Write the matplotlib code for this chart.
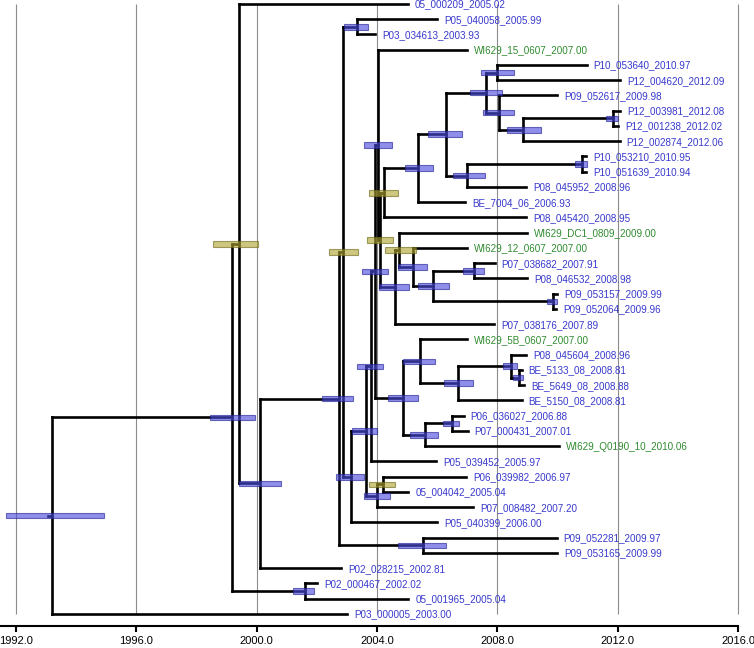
import matplotlib
matplotlib.use('Agg')
import matplotlib.pyplot as plt

# tips, top to bottom
tipNames = [
    '05_000209_2005.02', 'P05_040058_2005.99', 'P03_034613_2003.93', 'WI629_15_0607_2007.00',
    'P10_053640_2010.97', 'P12_004620_2012.09', 'P09_052617_2009.98', 'P12_003981_2012.08',
    'P12_001238_2012.02', 'P12_002874_2012.06', 'P10_053210_2010.95', 'P10_051639_2010.94',
    'P08_045952_2008.96', 'BE_7004_06_2006.93', 'P08_045420_2008.95', 'WI629_DC1_0809_2009.00',
    'WI629_12_0607_2007.00', 'P07_038682_2007.91', 'P08_046532_2008.98', 'P09_053157_2009.99',
    'P09_052064_2009.96', 'P07_038176_2007.89', 'WI629_5B_0607_2007.00', 'P08_045604_2008.96',
    'BE_5133_08_2008.81', 'BE_5649_08_2008.88', 'BE_5150_08_2008.81', 'P06_036027_2006.88',
    'P07_000431_2007.01', 'WI629_Q0190_10_2010.06', 'P05_039452_2005.97', 'P06_039982_2006.97',
    '05_004042_2005.04', 'P07_008482_2007.20', 'P05_040399_2006.00', 'P09_052281_2009.97',
    'P09_053165_2009.99', 'P02_028215_2002.81', 'P02_000467_2002.02', '05_001965_2005.04',
    'P03_000005_2003.00',
]
tipDates = [
    2005.02, 2005.99, 2003.93, 2007.00, 2010.97, 2012.09, 2009.98, 2012.08,
    2012.02, 2012.06, 2010.95, 2010.94, 2008.96, 2006.93, 2008.95, 2009.00,
    2007.00, 2007.91, 2008.98, 2009.99, 2009.96, 2007.89, 2007.00, 2008.96,
    2008.81, 2008.88, 2008.81, 2006.88, 2007.01, 2010.06, 2005.97, 2006.97,
    2005.04, 2007.20, 2006.00, 2009.97, 2009.99, 2002.81, 2002.02, 2005.04,
    2003.00,
]

# internal nodes
nodeNames = ['root', 'A', 'B', 'C', 'D', 'F', 'E', 'n', 'o', 'p', 'P', 'k', 'l', 'j', 'i',
             'f', 'e', 'a', 'b', 'c', 'd', 'g', 'h', 'V', 'U', 'Q', 'R', 'S', 'T', 'M',
             'I', 'J', 'K', 'L', 'N', 'O', 'q', 'r', 'H', 'G']
nodeChildren = [
    ['A', 'P03_000005_2003.00'], ['B', 'G'], ['05_000209_2005.02', 'C'],
    ['D', 'P02_028215_2002.81'], ['F', 'H'], ['E', 'n'],
    ['P05_040058_2005.99', 'P03_034613_2003.93'], ['o', 'P05_040399_2006.00'], ['p', 'q'],
    ['P', 'P05_039452_2005.97'], ['k', 'M'], ['WI629_15_0607_2007.00', 'l'], ['j', 'V'],
    ['i', 'P08_045420_2008.95'], ['f', 'BE_7004_06_2006.93'], ['e', 'g'], ['a', 'b'],
    ['P10_053640_2010.97', 'P12_004620_2012.09'], ['P09_052617_2009.98', 'c'],
    ['d', 'P12_002874_2012.06'], ['P12_003981_2012.08', 'P12_001238_2012.02'],
    ['h', 'P08_045952_2008.96'], ['P10_053210_2010.95', 'P10_051639_2010.94'],
    ['U', 'P07_038176_2007.89'], ['WI629_DC1_0809_2009.00', 'Q'],
    ['WI629_12_0607_2007.00', 'R'], ['S', 'T'],
    ['P07_038682_2007.91', 'P08_046532_2008.98'], ['P09_053157_2009.99', 'P09_052064_2009.96'],
    ['I', 'N'], ['WI629_5B_0607_2007.00', 'J'], ['K', 'BE_5150_08_2008.81'],
    ['P08_045604_2008.96', 'L'], ['BE_5133_08_2008.81', 'BE_5649_08_2008.88'],
    ['O', 'WI629_Q0190_10_2010.06'], ['P06_036027_2006.88', 'P07_000431_2007.01'],
    ['r', 'P07_008482_2007.20'], ['P06_039982_2006.97', '05_004042_2005.04'],
    ['P09_052281_2009.97', 'P09_053165_2009.99'], ['P02_000467_2002.02', '05_001965_2005.04'],
]
nodeDates = [1993.20, 1999.18, 1999.42, 2000.11, 2002.74, 2002.87, 2003.34, 2003.14, 2003.64,
             2003.81, 2003.94, 2004.04, 2004.10, 2004.24, 2005.37, 2006.30, 2007.63, 2008.00,
             2008.06, 2008.86, 2011.85, 2007.00, 2010.82, 2004.60, 2004.74, 2005.20, 2005.87,
             2007.23, 2009.86, 2004.87, 2005.44, 2006.70, 2008.46, 2008.73, 2005.60, 2006.50,
             2004.00, 2004.20, 2005.54, 2001.61]
hpdLower = [1991.67, 1998.45, 1998.55, 1999.42, 2002.18, 2002.41, 2002.91, 2002.64, 2003.17,
            2003.34, 2003.51, 2003.57, 2003.67, 2003.74, 2004.94, 2005.70, 2007.10, 2007.46,
            2007.53, 2008.33, 2011.62, 2006.53, 2010.59, 2004.07, 2004.27, 2004.70, 2005.37,
            2006.87, 2009.66, 2004.37, 2004.87, 2006.23, 2008.20, 2008.53, 2005.10, 2006.20,
            2003.57, 2003.74, 2004.70, 2001.21]
hpdUpper = [1994.93, 1999.95, 2000.05, 2000.81, 2003.21, 2003.37, 2003.71, 2003.57, 2004.00,
            2004.20, 2004.37, 2004.50, 2004.54, 2004.70, 2005.87, 2006.83, 2008.16, 2008.56,
            2008.56, 2009.46, 2012.02, 2007.60, 2010.99, 2005.07, 2005.30, 2005.67, 2006.40,
            2007.56, 2009.99, 2005.37, 2005.93, 2007.20, 2008.66, 2008.86, 2006.03, 2006.73,
            2004.44, 2004.60, 2006.30, 2001.91]
lowSupport = ['B', 'F', 'l', 'j', 'U', 'r']

yearTicks = [1992, 1996, 2000, 2004, 2008, 2012, 2016]

blueText = '#3838cc'
greenText = '#2f8a2f'

dates = dict(zip(tipNames, tipDates))
dates.update(dict(zip(nodeNames, nodeDates)))
children = dict(zip(nodeNames, nodeChildren))
rows = {name: i for i, name in enumerate(tipNames)}


def rowOf(name):
    if name not in rows:
        kids = children[name]
        rows[name] = (rowOf(kids[0]) + rowOf(kids[-1])) / 2.0
    return rows[name]


fig = plt.figure(figsize=(7.54, 6.48), dpi=100)
ax = fig.add_axes([0, 22 / 648, 1, 626 / 648])
ax.set_xlim(1991.47, 2016.53)
ax.set_ylim(40.79, -0.262)

# grid
ax.vlines(yearTicks, 0, len(tipNames) - 1, color='#8c8c8c', lw=0.8, zorder=0)

# branches
lineW = 1.9
for name in nodeNames:
    x = dates[name]
    ys = [rowOf(c) for c in children[name]]
    ax.plot([x, x], [min(ys), max(ys)], color='black', lw=lineW, solid_capstyle='projecting', zorder=2)
    for c in children[name]:
        ax.plot([x, dates[c]], [rowOf(c), rowOf(c)], color='black', lw=lineW,
                solid_capstyle='projecting', zorder=2)
ax.plot([dates['root'] - 0.15, dates['root']], [rowOf('root')] * 2, color='black', lw=lineW, zorder=2)

# node HPD bars
for name, lo, hi in zip(nodeNames, hpdLower, hpdUpper):
    if name in lowSupport:
        face, edge = '#b0a630', '#6e6818'
    else:
        face, edge = '#4a4ae0', '#202090'
    ax.barh(rowOf(name), hi - lo, left=lo, height=0.37, color=face, alpha=0.62,
            edgecolor=edge, linewidth=0.8, zorder=3)

# tip labels
for name, d, i in zip(tipNames, tipDates, range(len(tipNames))):
    col = greenText if name.startswith('WI629') else blueText
    ax.annotate(name, (d, i), xytext=(5, -2.6), textcoords='offset points',
                va='baseline', ha='left', fontsize=7.1, color=col, family='Liberation Sans')

for s in ['left', 'top', 'right']:
    ax.spines[s].set_visible(False)
ax.spines['bottom'].set_linewidth(1.5)
ax.spines['bottom'].set_bounds(1991.47, 2016)
ax.set_yticks([])
ax.set_xticks(yearTicks)
ax.set_xticklabels([f'{t:.1f}' for t in yearTicks], fontsize=8, family='Liberation Sans')
ax.tick_params(axis='x', direction='out', length=4.5, width=1.5, pad=3)

fig.savefig('out.png', dpi=100)
